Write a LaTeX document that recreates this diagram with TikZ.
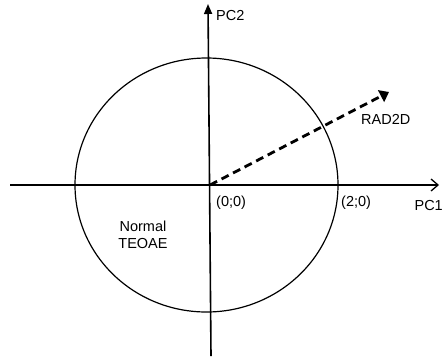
\documentclass[tikz,border=0pt]{standalone}
\usepackage{fontspec}
\setmainfont{Liberation Sans}
\usetikzlibrary{arrows.meta}
\begin{document}
\begin{tikzpicture}[x=1pt,y=-1pt,
  lbl/.style={inner sep=0pt,font=\fontsize{14.5}{17}\selectfont},
  axis/.style={line width=1.6pt},
  rad/.style={line width=2.8pt,dash pattern=on 8pt off 5pt,-{Triangle[length=9pt,width=13pt]}}]
\useasboundingbox (0,0) rectangle (446,362);
\coordinate (O) at (210,185);
\coordinate (xl) at (10,185);
\coordinate (xr) at (439,185);
\coordinate (yb) at (211,356);
\coordinate (yt) at (208,4);
\coordinate (tip) at (389,92);
\draw[line width=1.2pt] (206.5,185) ellipse [x radius=131.5, y radius=127];
\draw[axis,-{Straight Barb[length=7pt,width=12pt,line width=1.3pt]}] (xl) -- (xr);
\draw[axis,-{Triangle[length=10pt,width=8pt]}] (yb) -- (yt);
\draw[rad] (O) -- (tip);
\node[lbl,anchor=west] (pc2) at (216,16) {PC2};
\node[lbl,anchor=east] (pc1) at (443,206) {PC1};
\node[lbl,anchor=west] (o) at (216,203) {(0;0)};
\node[lbl,anchor=west] (t) at (341,203) {(2;0)};
\node[lbl,anchor=west] (rad) at (361,119) {RAD2D};
\node[lbl,align=center] (n) at (143,235) {Normal\\TEOAE};
\end{tikzpicture}
\end{document}
